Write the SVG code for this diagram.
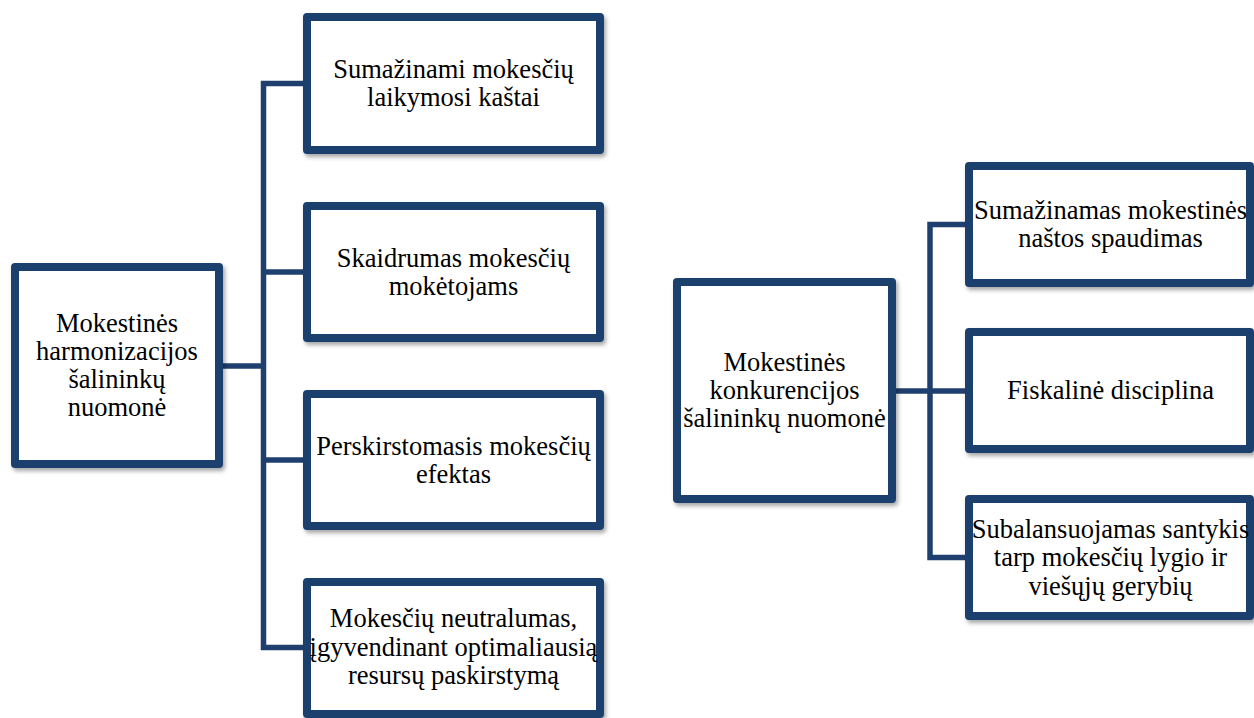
<svg xmlns="http://www.w3.org/2000/svg" width="1254" height="718" viewBox="0 0 1254 718">
  <defs>
    <filter id="sh" x="-10%" y="-10%" width="130%" height="130%">
      <feDropShadow dx="2" dy="3" stdDeviation="2" flood-color="#000" flood-opacity="0.35"/>
    </filter>
  </defs>
  <style>
    .box { fill: #ffffff; stroke: #1F3F6E; stroke-width: 8; stroke-linejoin: round; filter: url(#sh); }
    .conn { fill: none; stroke: #1F3F6E; stroke-width: 5.5; stroke-linejoin: miter; }
    .t { font-family: "Liberation Serif", "Times New Roman", serif; font-size: 26.5px; fill: #000; text-anchor: middle; }
  </style>
  <rect width="1254" height="718" fill="#ffffff"/>

  <g id="connectors">
    <path class="conn" d="M305 83.5 H263.5 V647.5 H305"/>
    <path class="conn" d="M222 366 H263.5"/>
    <path class="conn" d="M263.5 272 H305"/>
    <path class="conn" d="M263.5 460 H305"/>
    <path class="conn" d="M967 224.5 H930 V557.5 H967"/>
    <path class="conn" d="M895 391 H967"/>
  </g>

  <g id="root-left">
    <rect class="box" x="15" y="267" width="204" height="197"/>
    <text class="t" x="117" y="332">Mokestinės</text>
    <text class="t" x="117" y="360">harmonizacijos</text>
    <text class="t" x="117" y="388">šalininkų</text>
    <text class="t" x="117" y="416">nuomonė</text>
  </g>

  <g id="left-1">
    <rect class="box" x="307" y="17" width="293" height="133"/>
    <text class="t" x="453.5" y="77.5">Sumažinami mokesčių</text>
    <text class="t" x="453.5" y="105.5">laikymosi kaštai</text>
  </g>

  <g id="left-2">
    <rect class="box" x="307" y="206" width="293" height="132"/>
    <text class="t" x="453.5" y="266.5">Skaidrumas mokesčių</text>
    <text class="t" x="453.5" y="294.5">mokėtojams</text>
  </g>

  <g id="left-3">
    <rect class="box" x="307" y="394" width="293" height="132"/>
    <text class="t" x="453.5" y="455">Perskirstomasis mokesčių</text>
    <text class="t" x="453.5" y="483">efektas</text>
  </g>

  <g id="left-4">
    <rect class="box" x="307" y="582" width="293" height="132"/>
    <text class="t" x="453.5" y="627">Mokesčių neutralumas,</text>
    <text class="t" x="453.5" y="655.5">įgyvendinant optimaliausią</text>
    <text class="t" x="453.5" y="684">resursų paskirstymą</text>
  </g>

  <g id="root-right">
    <rect class="box" x="677" y="282" width="215" height="217"/>
    <text class="t" x="784.5" y="370.5">Mokestinės</text>
    <text class="t" x="784.5" y="398.5">konkurencijos</text>
    <text class="t" x="784.5" y="426.5">šalininkų nuomonė</text>
  </g>

  <g id="right-1">
    <rect class="box" x="969" y="166" width="281" height="117"/>
    <text class="t" x="1110.5" y="219">Sumažinamas mokestinės</text>
    <text class="t" x="1110.5" y="247">naštos spaudimas</text>
  </g>

  <g id="right-2">
    <rect class="box" x="969" y="332" width="281" height="117"/>
    <text class="t" x="1110.5" y="399">Fiskalinė disciplina</text>
  </g>

  <g id="right-3">
    <rect class="box" x="969" y="499" width="281" height="117"/>
    <text class="t" x="1110.5" y="538">Subalansuojamas santykis</text>
    <text class="t" x="1110.5" y="566">tarp mokesčių lygio ir</text>
    <text class="t" x="1110.5" y="594.5">viešųjų gerybių</text>
  </g>
</svg>
